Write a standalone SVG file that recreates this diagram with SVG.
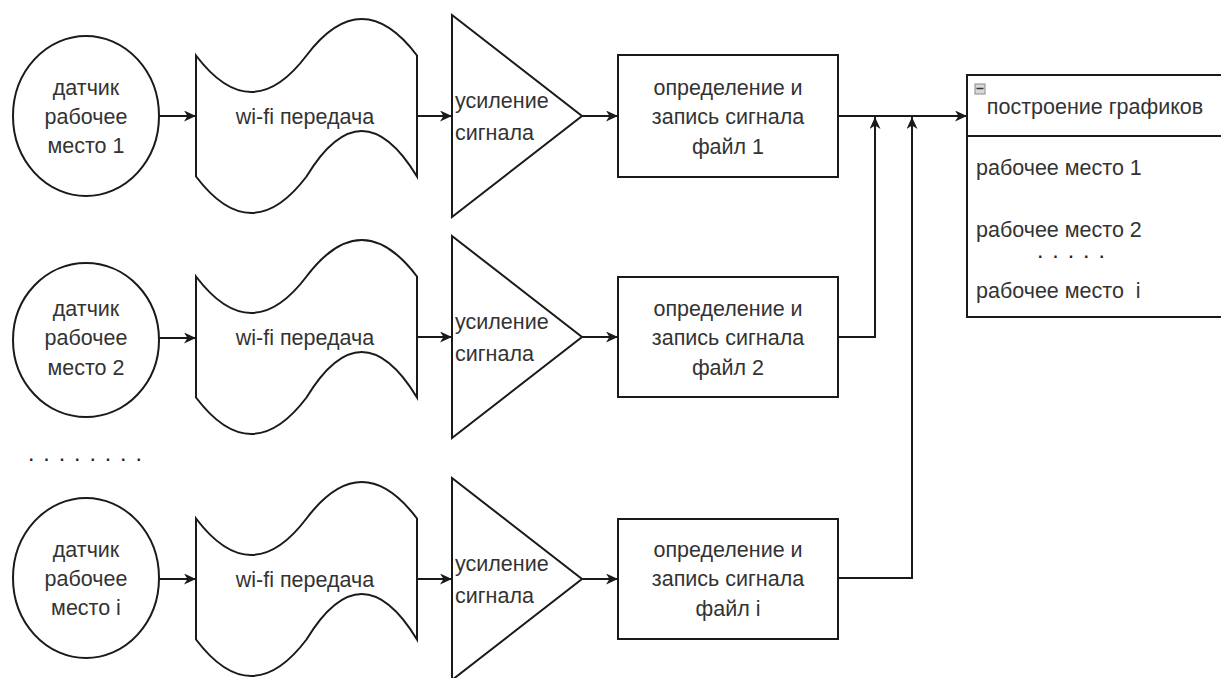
<svg xmlns="http://www.w3.org/2000/svg" width="1221" height="678" viewBox="0 0 1221 678">
  <style>
    .shape { fill: #ffffff; stroke: #1a1a1a; stroke-width: 2; }
    .edge { fill: none; stroke: #1a1a1a; stroke-width: 2; }
    text { font-family: "Liberation Sans", Arial, sans-serif; font-size: 21.5px; fill: #333333; }
    .c { text-anchor: middle; }
    .dots { font-size: 16px; font-weight: bold; fill: #222222; letter-spacing: 10.9px; }
  </style>
  <defs>
    <marker id="arrow" markerUnits="userSpaceOnUse" markerWidth="13" markerHeight="11" refX="12" refY="5.5" orient="auto">
      <path d="M0,0 L12,5.5 L0,11 L3.5,5.5 Z" fill="#1a1a1a"/>
    </marker>
    <!-- tape-like transmission shape, 221 wide, 202 tall -->
    <path id="tape" d="M0,40.5 Q55.25,113.4 110.5,40.5 Q165.75,-32.4 221,40.5 L221,161.5 Q165.75,70.5 110.5,161.5 Q55.25,234.4 0,161.5 Z"/>
  </defs>

  <!-- row 1 -->
  <g id="sensor1">
    <ellipse class="shape" cx="86" cy="116" rx="73" ry="80"/>
    <text class="c" x="86" y="95">датчик</text>
    <text class="c" x="86" y="124">рабочее</text>
    <text class="c" x="86" y="153">место 1</text>
  </g>
  <g id="wifi1">
    <use href="#tape" class="shape" transform="translate(196,15)"/>
    <text class="c" x="305" y="124">wi-fi передача</text>
  </g>
  <g id="amp1">
    <polygon class="shape" points="452,15 582,116 452,217"/>
    <text x="455" y="108">усиление</text>
    <text x="455" y="140">сигнала</text>
  </g>
  <g id="rec1">
    <rect class="shape" x="618" y="55" width="220" height="122"/>
    <text class="c" x="728" y="95">определение и</text>
    <text class="c" x="728" y="124">запись сигнала</text>
    <text class="c" x="728" y="154">файл 1</text>
  </g>

  <!-- row 2 -->
  <g id="sensor2">
    <ellipse class="shape" cx="86" cy="340" rx="73" ry="77"/>
    <text class="c" x="86" y="316">датчик</text>
    <text class="c" x="86" y="345">рабочее</text>
    <text class="c" x="86" y="375">место 2</text>
  </g>
  <g id="wifi2">
    <use href="#tape" class="shape" transform="translate(196,236)"/>
    <text class="c" x="305" y="345">wi-fi передача</text>
  </g>
  <g id="amp2">
    <polygon class="shape" points="452,236 582,337 452,438"/>
    <text x="455" y="329">усиление</text>
    <text x="455" y="361">сигнала</text>
  </g>
  <g id="rec2">
    <rect class="shape" x="618" y="277" width="220" height="120"/>
    <text class="c" x="728" y="316">определение и</text>
    <text class="c" x="728" y="345">запись сигнала</text>
    <text class="c" x="728" y="375">файл 2</text>
  </g>

  <!-- ellipsis between rows -->
  <text id="gap-dots" class="dots" x="29" y="461">........</text>

  <!-- row i -->
  <g id="sensor3">
    <ellipse class="shape" cx="86" cy="578" rx="73" ry="80"/>
    <text class="c" x="86" y="557">датчик</text>
    <text class="c" x="86" y="586">рабочее</text>
    <text class="c" x="86" y="615">место i</text>
  </g>
  <g id="wifi3">
    <use href="#tape" class="shape" transform="translate(196,478)"/>
    <text class="c" x="305" y="587">wi-fi передача</text>
  </g>
  <g id="amp3">
    <polygon class="shape" points="452,478 582,579 452,680"/>
    <text x="455" y="571">усиление</text>
    <text x="455" y="603">сигнала</text>
  </g>
  <g id="rec3">
    <rect class="shape" x="618" y="519" width="220" height="120"/>
    <text class="c" x="728" y="557">определение и</text>
    <text class="c" x="728" y="586">запись сигнала</text>
    <text class="c" x="728" y="616">файл i</text>
  </g>

  <!-- plotting list -->
  <g id="plots">
    <rect class="shape" x="967" y="75" width="270" height="242"/>
    <line class="edge" x1="967" y1="136" x2="1237" y2="136"/>
    <rect x="975" y="84" width="10" height="10" fill="#d9d9d9" stroke="#888888" stroke-width="1"/>
    <line x1="976.5" y1="88.5" x2="983.5" y2="88.5" stroke="#333333" stroke-width="1.5"/>
    <text class="c" x="1095" y="114">построение графиков</text>
    <text x="976" y="175">рабочее место 1</text>
    <text x="976" y="237">рабочее место 2</text>
    <text class="dots" x="1038" y="258">.....</text>
    <text x="976" y="298" xml:space="preserve">рабочее место  i</text>
  </g>

  <!-- connectors -->
  <g id="connectors">
    <line class="edge" x1="159" y1="116" x2="196" y2="116" marker-end="url(#arrow)"/>
    <line class="edge" x1="417" y1="116" x2="452" y2="116" marker-end="url(#arrow)"/>
    <line class="edge" x1="582" y1="116" x2="618" y2="116" marker-end="url(#arrow)"/>

    <line class="edge" x1="159" y1="338" x2="196" y2="338" marker-end="url(#arrow)"/>
    <line class="edge" x1="417" y1="337" x2="452" y2="337" marker-end="url(#arrow)"/>
    <line class="edge" x1="582" y1="337" x2="618" y2="337" marker-end="url(#arrow)"/>

    <line class="edge" x1="159" y1="579" x2="196" y2="579" marker-end="url(#arrow)"/>
    <line class="edge" x1="417" y1="579" x2="452" y2="579" marker-end="url(#arrow)"/>
    <line class="edge" x1="582" y1="579" x2="618" y2="579" marker-end="url(#arrow)"/>

    <line class="edge" x1="838" y1="116" x2="967" y2="116" marker-end="url(#arrow)"/>
    <polyline class="edge" points="838,337 875,337 875,117" marker-end="url(#arrow)"/>
    <polyline class="edge" points="838,578 912,578 912,117" marker-end="url(#arrow)"/>
  </g>
</svg>
